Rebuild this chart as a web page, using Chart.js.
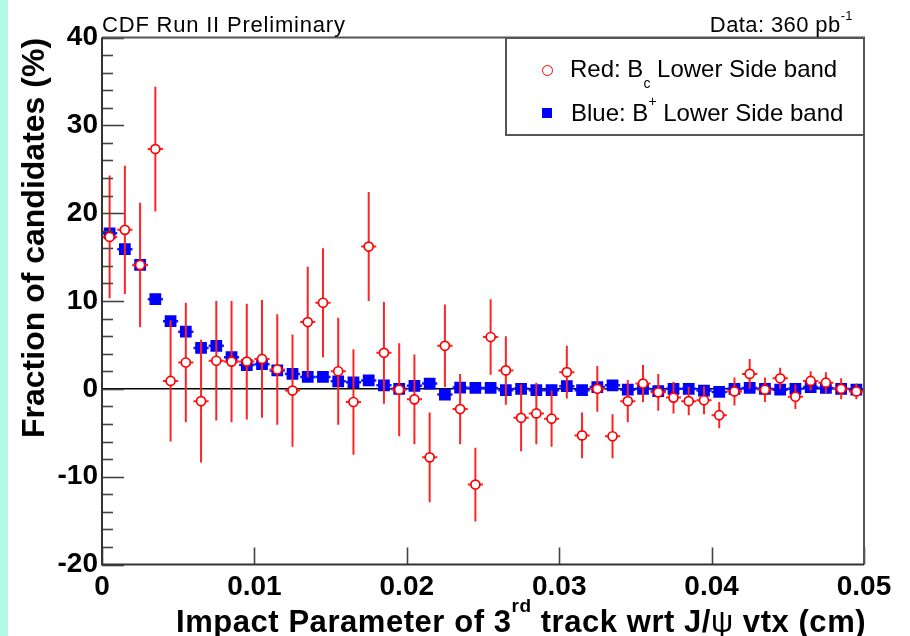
<!DOCTYPE html>
<html>
<head>
<meta charset="utf-8">
<script src="https://cdn.jsdelivr.net/npm/chart.js@4/dist/chart.umd.min.js"></script>
<style>
  html, body { margin: 0; padding: 0; background: #ffffff; }
  #wrap { position: relative; width: 910px; height: 636px; overflow: hidden; background: #ffffff;
          font-family: 'Liberation Sans', Arial, Helvetica, sans-serif; color: #000; }
  #strip { position: absolute; left: 0; top: 0; width: 8px; height: 636px; background: #b3fae6; }
  #c { position: absolute; left: 0; top: 0; }
  .t { position: absolute; line-height: 1; white-space: nowrap; }
  #legend { position: absolute; left: 505px; top: 37px; width: 360px; height: 99px;
            box-sizing: border-box; border: 2px solid #555; background: #fff; }
  .mk { position: absolute; box-sizing: border-box; }
  sup, sub { line-height: 0; }
</style>
</head>
<body>
<div id="wrap">
  <div id="strip"></div>
  <canvas id="c" width="910" height="636"></canvas>

  <div class="t" id="cdf" style="left:102px; top:14px; font-size:22px; letter-spacing:0.8px;">CDF Run II Preliminary</div>
  <div class="t" id="lumi" style="right:57px; top:14px; font-size:22px; letter-spacing:0.4px;">Data: 360 pb<sup style="font-size:13px; position:relative; top:-4px;">-1</sup></div>

  <div id="legend"></div>
  <div class="mk" style="left:542px; top:65px; width:11px; height:11px; border:1.6px solid #ff0000; border-radius:50%; background:#fff;"></div>
  <div class="mk" style="left:542px; top:108px; width:10px; height:10px; background:#0000ff;"></div>
  <div class="t" style="left:570px; top:57px; font-size:24px;">Red: B<sub style="font-size:14px; position:relative; top:5px;">c</sub> Lower Side band</div>
  <div class="t" style="left:571px; top:101px; font-size:24px;">Blue: B<sup style="font-size:14px; position:relative; top:-6px;">+</sup> Lower Side band</div>

  <div class="t" id="xtitle" style="left:176px; top:606px; font-size:31px; font-weight:bold; letter-spacing:0.55px;">Impact Parameter of 3<sup style="font-size:19px; position:relative; top:-9px;">rd</sup> track wrt J/<span style="font-weight:normal;">ψ</span> vtx (cm)</div>
  <div class="t" id="ytitle" style="left:33px; top:238px; font-size:32px; font-weight:bold; transform: translate(-50%,-50%) rotate(-90deg);">Fraction of candidates (%)</div>
</div>

<script>
// ---------------- data ----------------
const binCenters = [
  0.0005, 0.0015, 0.0025, 0.0035, 0.0045, 0.0055, 0.0065, 0.0075, 0.0085, 0.0095,
  0.0105, 0.0115, 0.0125, 0.0135, 0.0145, 0.0155, 0.0165, 0.0175, 0.0185, 0.0195,
  0.0205, 0.0215, 0.0225, 0.0235, 0.0245, 0.0255, 0.0265, 0.0275, 0.0285, 0.0295,
  0.0305, 0.0315, 0.0325, 0.0335, 0.0345, 0.0355, 0.0365, 0.0375, 0.0385, 0.0395,
  0.0405, 0.0415, 0.0425, 0.0435, 0.0445, 0.0455, 0.0465, 0.0475, 0.0485, 0.0495
];
const binHalfWidth = 0.0005;

const redValues = [
  17.3, 18.1, 14.1, 27.3, 0.9, 3.0, -1.4, 3.2, 3.1, 3.1,
  3.4, 2.2, -0.2, 7.6, 9.8, 2.0, -1.5, 16.2, 4.1, -0.1,
  -1.2, -7.8, 4.9, -2.3, -10.9, 5.9, 2.1, -3.3, -2.8, -3.4,
  1.9, -5.3, 0.0, -5.4, -1.4, 0.6, -0.4, -1.0, -1.4, -1.3,
  -3.0, -0.3, 1.7, -0.1, 1.2, -0.9, 0.9, 0.7, 0.0, -0.3
];
const redErrors = [
  7.0, 7.3, 7.1, 7.1, 6.9, 6.8, 7.0, 6.8, 6.9, 6.6,
  6.7, 6.3, 6.4, 6.3, 6.2, 6.1, 6.0, 6.2, 5.8, 5.3,
  5.1, 5.1, 4.7, 4.0, 4.2, 4.3, 3.9, 3.8, 3.5, 3.2,
  3.0, 2.6, 2.6, 2.5, 2.4, 2.1, 2.1, 1.8, 1.6, 1.6,
  1.5, 1.6, 1.7, 1.4, 1.2, 1.4, 1.1, 1.2, 1.2, 0.9
];
const blueValues = [
  17.7, 15.9, 14.1, 10.2, 7.7, 6.5, 4.65, 4.9, 3.6, 2.7,
  2.8, 2.1, 1.7, 1.35, 1.35, 0.85, 0.75, 0.95, 0.4, 0.0,
  0.35, 0.6, -0.65, 0.15, 0.1, 0.1, -0.15, 0.0, -0.15, -0.15,
  0.3, -0.15, 0.2, 0.4, -0.1, 0.0, -0.25, 0.0, 0.0, -0.2,
  -0.35, 0.0, 0.1, 0.0, -0.1, 0.0, 0.2, 0.1, 0.0, -0.1
];
const blueErrors = [
  0.7, 0.7, 0.6, 0.6, 0.5, 0.5, 0.5, 0.5, 0.4, 0.4,
  0.4, 0.4, 0.4, 0.4, 0.4, 0.3, 0.3, 0.3, 0.3, 0.3,
  0.3, 0.3, 0.3, 0.3, 0.3, 0.3, 0.3, 0.3, 0.3, 0.3,
  0.3, 0.3, 0.3, 0.3, 0.3, 0.3, 0.3, 0.3, 0.3, 0.3,
  0.3, 0.3, 0.3, 0.3, 0.3, 0.3, 0.3, 0.3, 0.3, 0.3
];
const xTickValues = [0, 0.01, 0.02, 0.03, 0.04, 0.05];
const yTickValues = [-20, -10, 0, 10, 20, 30, 40];
const yMinorStep = 2;

// ---------------- plugins ----------------
const errorBars = {
  id: 'errorBars',
  beforeDatasetDraw(chart, args) {
    const ds = chart.data.datasets[args.index];
    if (!ds.errors) return;
    const xs = chart.scales.x, ys = chart.scales.y, c = chart.ctx;
    c.save();
    c.beginPath();
    c.rect(chart.chartArea.left, chart.chartArea.top, chart.chartArea.right - chart.chartArea.left, chart.chartArea.bottom - chart.chartArea.top);
    c.clip();
    c.strokeStyle = ds.errColor;
    c.lineWidth = ds.errWidth;
    ds.data.forEach((p, i) => {
      const e = ds.errors[i];
      const px = xs.getPixelForValue(p.x);
      const py = ys.getPixelForValue(p.y);
      c.beginPath();
      c.moveTo(px, ys.getPixelForValue(p.y - e));
      c.lineTo(px, ys.getPixelForValue(p.y + e));
      c.moveTo(xs.getPixelForValue(p.x - binHalfWidth), py);
      c.lineTo(xs.getPixelForValue(p.x + binHalfWidth), py);
      c.stroke();
    });
    c.restore();
  }
};

const frame = {
  id: 'frame',
  beforeDatasetsDraw(chart) {
    const c = chart.ctx, a = chart.chartArea, ys = chart.scales.y;
    const y0 = ys.getPixelForValue(0);
    c.save();
    c.strokeStyle = '#000';
    c.lineWidth = 1.5;
    c.beginPath();
    c.moveTo(a.left, y0);
    c.lineTo(a.right, y0);
    c.stroke();
    c.restore();
  },
  afterDraw(chart) {
    const c = chart.ctx, a = chart.chartArea, xs = chart.scales.x, ys = chart.scales.y;
    c.save();
    c.lineWidth = 1.6;
    c.strokeStyle = '#444';
    for (let v = ys.min; v <= ys.max + 1e-9; v += yMinorStep) {
      const py = Math.round(ys.getPixelForValue(v)) + 0.5;
      const major = yTickValues.includes(Math.round(v));
      c.beginPath();
      c.moveTo(a.left, py);
      c.lineTo(a.left + (major ? 22 : 11), py);
      c.stroke();
    }
    xTickValues.forEach(v => {
      const px = Math.round(xs.getPixelForValue(v)) + 0.5;
      c.beginPath();
      c.moveTo(px, a.bottom);
      c.lineTo(px, a.bottom - 17);
      c.stroke();
    });
    c.lineWidth = 2;
    c.strokeStyle = '#555';
    c.beginPath();
    c.moveTo(a.left, a.top);
    c.lineTo(a.right, a.top);
    c.lineTo(a.right, a.bottom);
    c.stroke();
    c.strokeStyle = '#333';
    c.beginPath();
    c.moveTo(a.left, a.top);
    c.lineTo(a.left, a.bottom);
    c.lineTo(a.right, a.bottom);
    c.stroke();
    c.restore();
  }
};

// ---------------- chart ----------------
const tickFont = { family: "'Liberation Sans', Arial, sans-serif", size: 28, weight: 'bold' };

new Chart(document.getElementById('c'), {
  type: 'scatter',
  data: {
    datasets: [
      {
        label: 'Red: Bc Lower Side band',
        data: binCenters.map((x, i) => ({ x: x, y: redValues[i] })),
        errors: redErrors,
        errColor: '#ff2424',
        errWidth: 2,
        pointStyle: 'circle',
        pointRadius: 4.5,
        borderWidth: 1.7,
        borderColor: '#ff0000',
        backgroundColor: '#ffffff'
      },
      {
        label: 'Blue: B+ Lower Side band',
        data: binCenters.map((x, i) => ({ x: x, y: blueValues[i] })),
        errors: blueErrors,
        errColor: '#1a1aff',
        errWidth: 2.5,
        pointStyle: 'rect',
        pointRadius: 8.3,
        borderWidth: 0,
        borderColor: '#0000ff',
        backgroundColor: '#0000ff'
      }
    ]
  },
  options: {
    responsive: false,
    animation: false,
    devicePixelRatio: 1,
    layout: { padding: { left: 0, top: 37.5, right: 46, bottom: 0 } },
    plugins: { legend: { display: false }, tooltip: { enabled: false } },
    scales: {
      x: {
        type: 'linear',
        min: 0,
        max: 0.05,
        afterFit(s) { s.height = 71.5; },
        afterBuildTicks(s) { s.ticks = xTickValues.map(v => ({ value: v })); },
        ticks: {
          autoSkip: false,
          maxRotation: 0,
          padding: 6,
          color: '#000',
          font: tickFont,
          callback: v => String(Number(v.toFixed(3)))
        },
        grid: { display: false, drawTicks: false },
        border: { display: false }
      },
      y: {
        type: 'linear',
        min: -20,
        max: 40,
        afterFit(s) { s.width = 102; },
        afterBuildTicks(s) { s.ticks = yTickValues.map(v => ({ value: v })); },
        ticks: {
          padding: 4,
          color: '#000',
          font: tickFont,
          callback: v => String(v)
        },
        grid: { display: false, drawTicks: false },
        border: { display: false }
      }
    }
  },
  plugins: [errorBars, frame]
});
</script>
</body>
</html>
